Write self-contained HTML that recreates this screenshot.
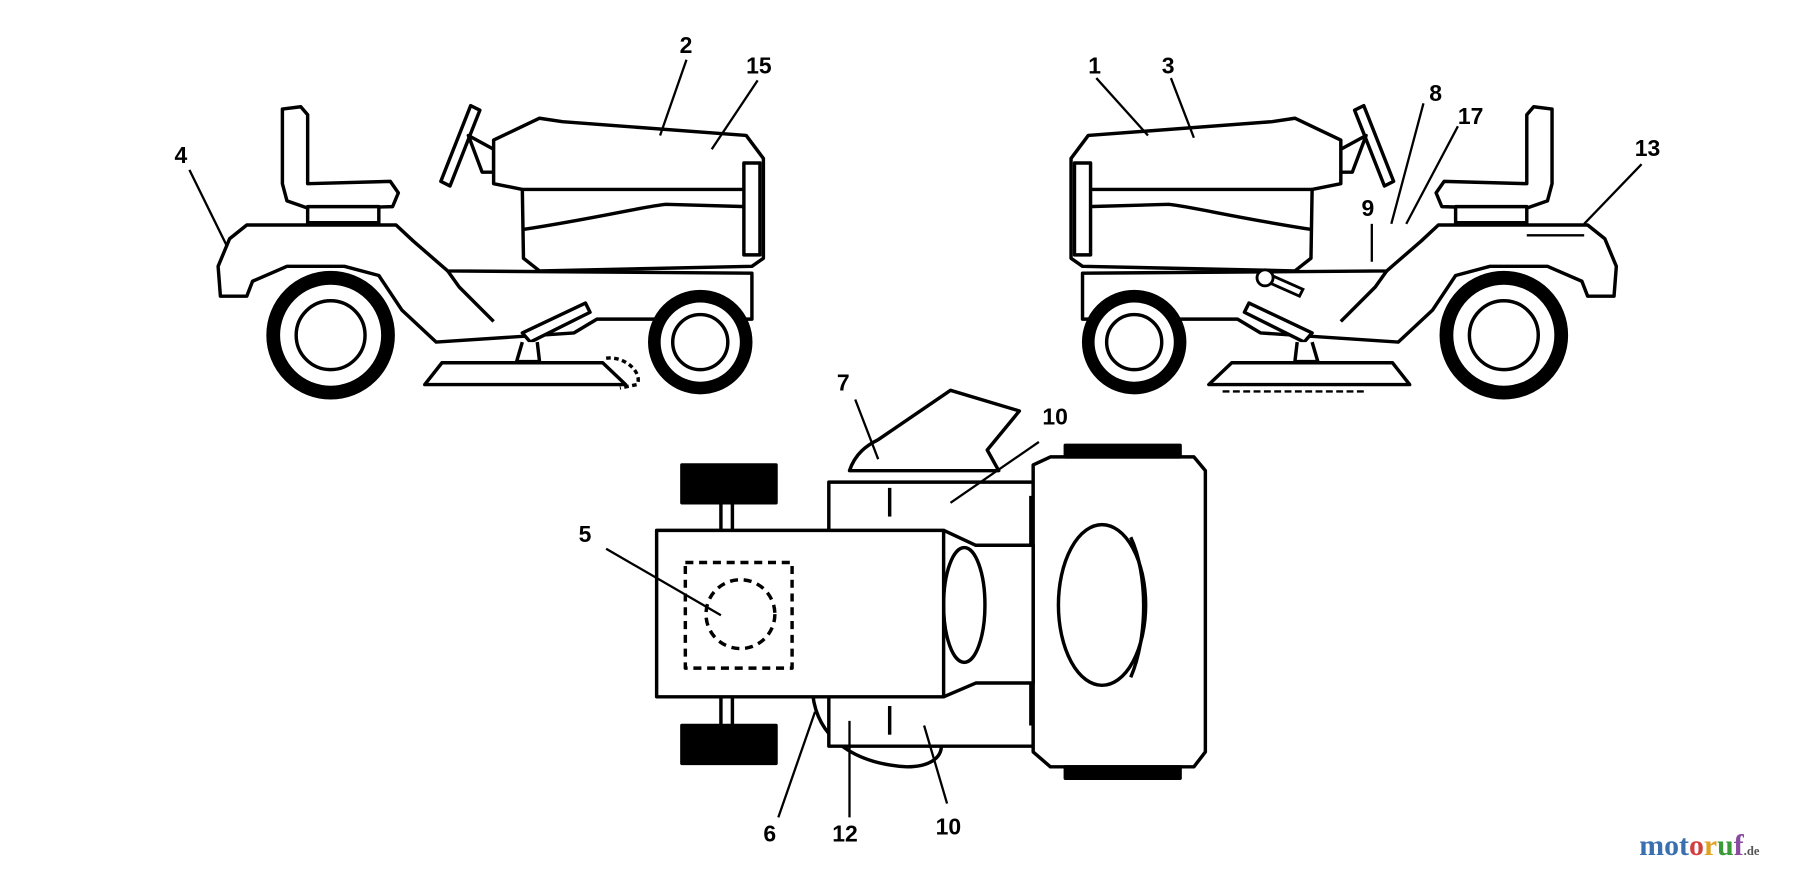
<!DOCTYPE html>
<html><head><meta charset="utf-8"><style>
html,body{margin:0;padding:0;background:#fff;width:1800px;height:869px;overflow:hidden}
svg{display:block}
text{font-family:"Liberation Sans",sans-serif;font-weight:bold;font-size:20px;fill:#000}
</style></head><body>
<svg width="1800" height="869" viewBox="0 0 1568 757" preserveAspectRatio="none" xmlns="http://www.w3.org/2000/svg">
<defs>
<g id="tr" fill="#fff" stroke="#000" stroke-width="3" stroke-linejoin="round">
  <path d="M246,95 L262,93 L268,100 L268,160 L340,158 L347,168 L342,180 L270,182 L250,175 L246,160 Z"/>
  <rect x="268" y="180" width="62" height="14"/>
  <path d="M384,158 L410,92 L418,96 L392,162 Z"/>
  <path d="M408,118 L430,130 L430,150 L420,150 Z"/>
  <path d="M430,122 L470,103 L490,106 L650,118 L665,138 L665,225 L655,232 L470,236 L456,225 L455,165 L430,160 Z"/>
  <path d="M455,165 L650,165" fill="none"/>
  <path d="M455,200 C520,190 560,180 580,178 L650,180" fill="none"/>
  <rect x="648" y="142" width="14" height="80"/>
  <path d="M190,232 L200,208 L215,196 L345,196 L360,210 L390,236 L655,238 L655,278 L520,278 L500,290 L380,298 L350,270 L330,240 L300,232 L250,232 L220,245 L215,258 L192,258 Z"/>
  <path d="M390,236 L400,250 L430,280" fill="none"/>
  <path d="M455,290 L510,264 L514,272 L462,298 Z"/>
  <path d="M455,298 L450,315 L470,315 L468,298"/>
  <path d="M370,335 L385,316 L525,316 L545,335 Z"/>
  <circle cx="288" cy="292" r="50" fill="#fff" stroke="#000" stroke-width="12"/>
  <circle cx="288" cy="292" r="30" fill="#fff"/>
  <circle cx="610" cy="298" r="40" fill="#fff" stroke="#000" stroke-width="11"/>
  <circle cx="610" cy="298" r="24" fill="#fff"/>
</g>
</defs>
<use href="#tr"/>
<use href="#tr" transform="translate(1598,0) scale(-1,1)"/>
<path d="M528,312 C545,310 560,325 555,335 L540,338" fill="none" stroke="#000" stroke-width="3" stroke-dasharray="4 3"/>
<line x1="1065" y1="341" x2="1190" y2="341" stroke="#000" stroke-width="2" stroke-dasharray="6 3"/>
<g fill="#fff" stroke="#000" stroke-width="2.5">
  <path d="M1108,240 L1135,252 L1132,258 L1105,246 Z"/>
  <circle cx="1102" cy="242" r="7"/>
</g>

<g fill="#fff" stroke="#000" stroke-width="3" stroke-linejoin="round">
  <rect x="594" y="405" width="82" height="33" fill="#000"/>
  <rect x="594" y="632" width="82" height="33" fill="#000"/>
  <line x1="628" y1="438" x2="628" y2="465"/><line x1="638" y1="438" x2="638" y2="465"/>
  <line x1="628" y1="605" x2="628" y2="632"/><line x1="638" y1="605" x2="638" y2="632"/>
  <path d="M740,410 C745,395 755,388 765,383 L828,340 L888,358 L860,392 L870,410 Z"/>
  <path d="M708,605 C712,640 740,665 790,668 C810,668 820,660 820,650"/>
  <path d="M722,420 L900,420 L900,650 L722,650 Z"/>
  <path d="M900,405 L915,398 L1040,398 L1050,410 L1050,655 L1040,668 L915,668 L900,655 Z"/>
  <rect x="928" y="388" width="100" height="10" fill="#000"/>
  <rect x="928" y="668" width="100" height="10" fill="#000"/>
  <line x1="898" y1="432" x2="898" y2="632"/>
  <ellipse cx="960" cy="527" rx="38" ry="70"/>
  <path d="M985,468 C1000,500 1000,555 985,590" fill="none"/>
  <path d="M822,462 L850,475 L900,475 L900,595 L850,595 L822,607"/>
  <ellipse cx="840" cy="527" rx="18" ry="50"/>
  <rect x="572" y="462" width="250" height="145"/>
  <rect x="597" y="490" width="93" height="92" fill="none" stroke-dasharray="7 5"/>
  <circle cx="645" cy="535" r="30" fill="none" stroke-dasharray="7 5"/>
  <line x1="775" y1="425" x2="775" y2="450"/>
  <line x1="775" y1="615" x2="775" y2="640"/>
</g>

<g stroke="#000" stroke-width="2" fill="none">
  <line x1="165" y1="148" x2="198" y2="215"/>
  <line x1="598" y1="52" x2="575" y2="118"/>
  <line x1="660" y1="70" x2="620" y2="130"/>
  <line x1="955" y1="68" x2="1000" y2="118"/>
  <line x1="1020" y1="68" x2="1040" y2="120"/>
  <line x1="1240" y1="90" x2="1212" y2="195"/>
  <line x1="1270" y1="110" x2="1225" y2="195"/>
  <line x1="1195" y1="195" x2="1195" y2="228"/>
  <line x1="1430" y1="143" x2="1380" y2="195"/>
  <line x1="1330" y1="205" x2="1380" y2="205"/>
  <line x1="528" y1="478" x2="628" y2="536"/>
  <line x1="745" y1="348" x2="765" y2="400"/>
  <line x1="905" y1="385" x2="828" y2="438"/>
  <line x1="678" y1="712" x2="710" y2="620"/>
  <line x1="740" y1="712" x2="740" y2="628"/>
  <line x1="825" y1="700" x2="805" y2="632"/>
</g>

<text x="152" y="142">4</text>
<text x="592" y="46">2</text>
<text x="650" y="64">15</text>
<text x="948" y="64">1</text>
<text x="1012" y="64">3</text>
<text x="1245" y="88">8</text>
<text x="1270" y="108">17</text>
<text x="1186" y="188">9</text>
<text x="1424" y="136">13</text>
<text x="504" y="472">5</text>
<text x="729" y="340">7</text>
<text x="908" y="370">10</text>
<text x="665" y="733">6</text>
<text x="725" y="733">12</text>
<text x="815" y="727">10</text>
<text x="1428" y="745" style="font-family:'Liberation Serif',serif;font-size:26px;font-weight:bold"><tspan fill="#3a6fb0">mot</tspan><tspan fill="#d04040">o</tspan><tspan fill="#e0a020">r</tspan><tspan fill="#3a9a3a">u</tspan><tspan fill="#8a4aa0">f</tspan><tspan fill="#555" font-size="11">.de</tspan></text>
</svg>
</body></html>
